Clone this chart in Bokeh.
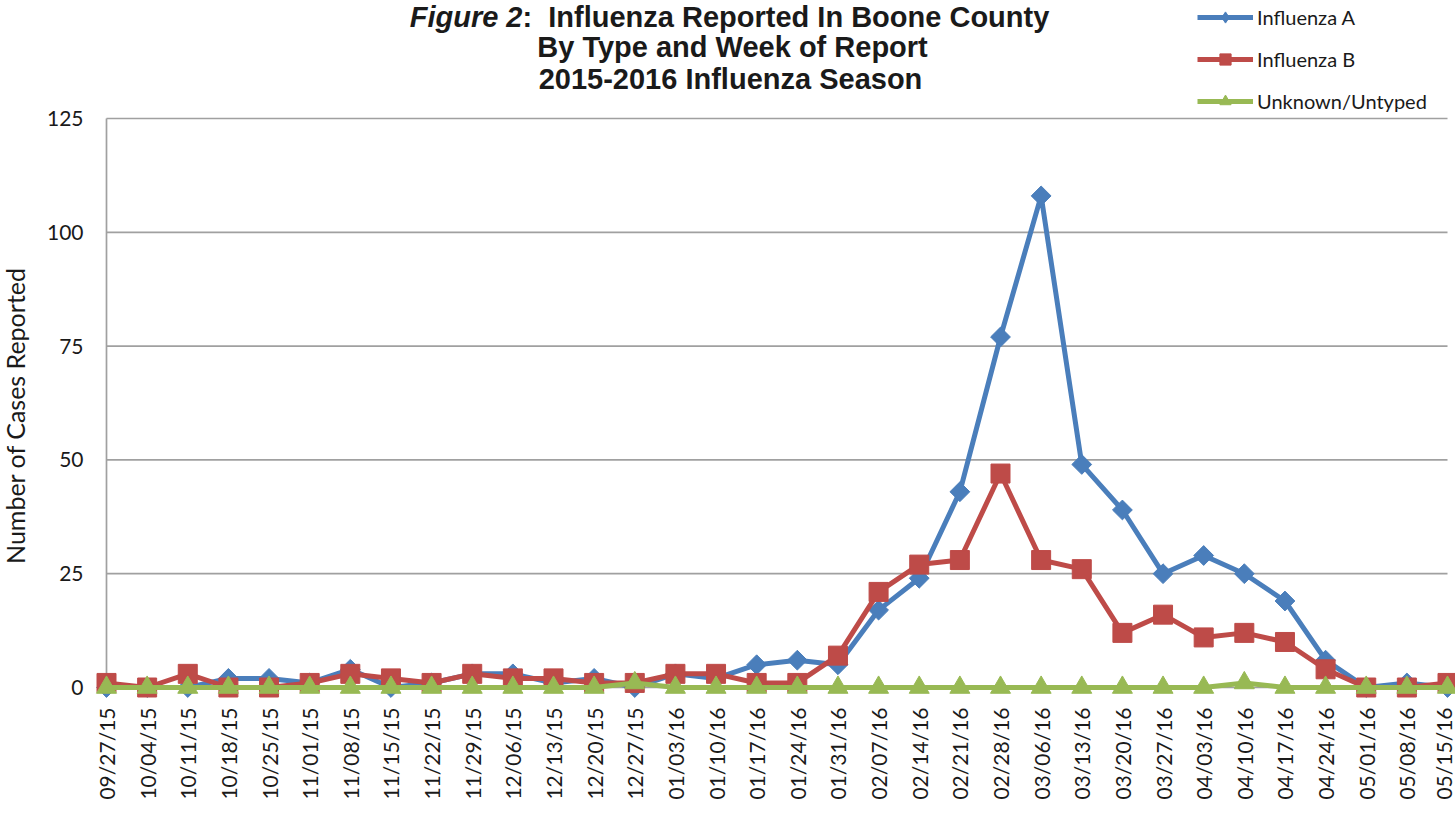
import math
from bokeh.plotting import figure
from bokeh.models import Label, Legend, LegendItem, FixedTicker, Range1d
from bokeh.embed import file_html
from bokeh.resources import INLINE

weeks = ["09/27/15", "10/04/15", "10/11/15", "10/18/15", "10/25/15", "11/01/15", "11/08/15",
         "11/15/15", "11/22/15", "11/29/15", "12/06/15", "12/13/15", "12/20/15", "12/27/15",
         "01/03/16", "01/10/16", "01/17/16", "01/24/16", "01/31/16", "02/07/16", "02/14/16",
         "02/21/16", "02/28/16", "03/06/16", "03/13/16", "03/20/16", "03/27/16", "04/03/16",
         "04/10/16", "04/17/16", "04/24/16", "05/01/16", "05/08/16", "05/15/16"]

flu_a = [0, 0, 0, 2, 2, 1, 4, 0, 1, 3, 3, 1, 2, 0, 3, 2, 5, 6, 5, 17, 24, 43, 77, 108,
         49, 39, 25, 29, 25, 19, 6, 0, 1, 0]
flu_b = [1, 0, 3, 0, 0, 1, 3, 2, 1, 3, 2, 2, 1, 1, 3, 3, 1, 1, 7, 21, 27, 28, 47, 28,
         26, 12, 16, 11, 12, 10, 4, 0, 0, 1]
unknown = [0, 0, 0, 0, 0, 0, 0, 0, 0, 0, 0, 0, 0, 1, 0, 0, 0, 0, 0, 0, 0, 0, 0, 0,
           0, 0, 0, 0, 1, 0, 0, 0, 0, 0]

y_ticks = [0, 25, 50, 75, 100, 125]

title_lines = ["By Type and Week of Report", "2015-2016 Influenza Season"]
title_italic = "Figure 2"
title_rest = ":\u00a0 Influenza Reported In Boone County"
series_names = ["Influenza A", "Influenza B", "Unknown/Untyped"]
y_label = "Number of Cases Reported"

BLUE = "#4A7EBB"
RED = "#BE4B48"
GREEN = "#98B954"
GRID = "#A0A0A0"
TXT = "#1a1a1a"
FONT = "Lato"

W, H = 1455, 813
x = list(range(len(weeks)))

# pixel layout of the plotting area: first week at px 106, last week at px 1447,
# value 0 at px 687, value 125 at px 118 (measured from top)
px0, px1 = 106, 1447
py0, py1 = 687, 118
xs = (px1 - px0) / (x[-1] - x[0])
ys = (py0 - py1) / (y_ticks[-1] - y_ticks[0])
x_range = Range1d(x[0] - px0 / xs, x[-1] + (W - px1) / xs)
y_range = Range1d(y_ticks[0] - (H - py0) / ys, y_ticks[-1] + py1 / ys)

p = figure(width=W, height=H, x_range=x_range, y_range=y_range,
           output_backend="svg", toolbar_location=None,
           min_border_left=0, min_border_right=0, min_border_top=0, min_border_bottom=0)
p.outline_line_color = None
p.background_fill_color = "white"
p.xgrid.grid_line_color = None
p.ygrid.grid_line_color = None

# gridlines and axis lines drawn within the data extent
gy = y_ticks[1:]
p.segment(x0=[x[0]] * len(gy), x1=[x[-1]] * len(gy), y0=gy, y1=gy,
          line_color=GRID, line_width=1.7)
p.segment(x0=[x[0]], x1=[x[0]], y0=[y_ticks[0]], y1=[y_ticks[-1]],
          line_color=GRID, line_width=1.7)
p.segment(x0=[x[0]], x1=[x[-1]], y0=[y_ticks[0]], y1=[y_ticks[0]],
          line_color=GRID, line_width=1.7)

la = p.line(x, flu_a, line_color=BLUE, line_width=5)
# small diamonds (hidden under the rotated squares) used as the legend glyph
da = p.scatter(x, flu_a, marker="diamond", size=12, fill_color=BLUE, line_color=BLUE)
sa = p.scatter(x, flu_a, marker="square", angle=math.pi / 4, size=14,
               fill_color=BLUE, line_color=BLUE)
lb = p.line(x, flu_b, line_color=RED, line_width=5)
sb = p.scatter(x, flu_b, marker="square", size=19, fill_color=RED, line_color=RED)
lu = p.line(x, unknown, line_color=GREEN, line_width=5)
su = p.scatter(x, unknown, marker="triangle", size=20, fill_color=GREEN, line_color=GREEN)

# axes placed inside the frame at data 0
p.yaxis.fixed_location = x[0]
p.yaxis.bounds = (-5.5, y_ticks[-1])
p.yaxis.ticker = FixedTicker(ticks=y_ticks)
p.yaxis.axis_line_color = None
p.yaxis.major_tick_line_color = None
p.yaxis.minor_tick_line_color = None
p.yaxis.major_tick_out = 0
p.yaxis.major_tick_in = 0
p.yaxis.major_label_standoff = 23
p.yaxis.major_label_text_font = FONT
p.yaxis.major_label_text_font_size = "21px"
p.yaxis.major_label_text_color = TXT
p.yaxis.axis_label = y_label
p.yaxis.axis_label_text_font = FONT
p.yaxis.axis_label_text_font_size = "25px"
p.yaxis.axis_label_text_font_style = "normal"
p.yaxis.axis_label_text_color = TXT
p.yaxis.axis_label_standoff = 14

p.xaxis.fixed_location = y_ticks[0]
p.xaxis.bounds = (x[0], x[-1])
p.xaxis.ticker = FixedTicker(ticks=x)
p.xaxis.major_label_overrides = {i: w for i, w in zip(x, weeks)}
p.xaxis.major_label_orientation = math.pi / 2
p.xaxis.axis_line_color = None
p.xaxis.major_tick_line_color = None
p.xaxis.minor_tick_line_color = None
p.xaxis.major_tick_out = 0
p.xaxis.major_tick_in = 0
p.xaxis.major_label_standoff = 20
p.xaxis.major_label_text_font = FONT
p.xaxis.major_label_text_font_size = "21px"
p.xaxis.major_label_text_color = TXT

# titles, in screen pixels (frame covers the whole canvas; y measured from bottom)
def lab(text, px, py, align="center", style="bold"):
    p.add_layout(Label(x=px, y=H - py, x_units="screen", y_units="screen",
                       text=text, text_font="Liberation Sans", text_font_size="29px",
                       text_font_style=style, text_align=align, text_baseline="middle",
                       text_color=TXT))

lab(title_italic, 522, 16, align="right", style="bold italic")
lab(title_rest, 522, 16, align="left")
lab(title_lines[0], 732, 46)
lab(title_lines[1], 730, 78)

item_h, gap = 28, 14
legend = Legend(items=[LegendItem(label=series_names[0], renderers=[la, da]),
                       LegendItem(label=series_names[1], renderers=[lb, sb]),
                       LegendItem(label=series_names[2], renderers=[lu, su])],
                location=(1197, H - (3 + 3 * item_h + 2 * gap)),
                glyph_width=56, glyph_height=item_h, label_height=item_h, spacing=gap,
                label_standoff=4, padding=0, margin=0,
                border_line_color=None, background_fill_alpha=0,
                label_text_font=FONT, label_text_font_size="20px", label_text_color=TXT)
p.add_layout(legend)

open("out.html", "w").write(file_html(p, INLINE))
